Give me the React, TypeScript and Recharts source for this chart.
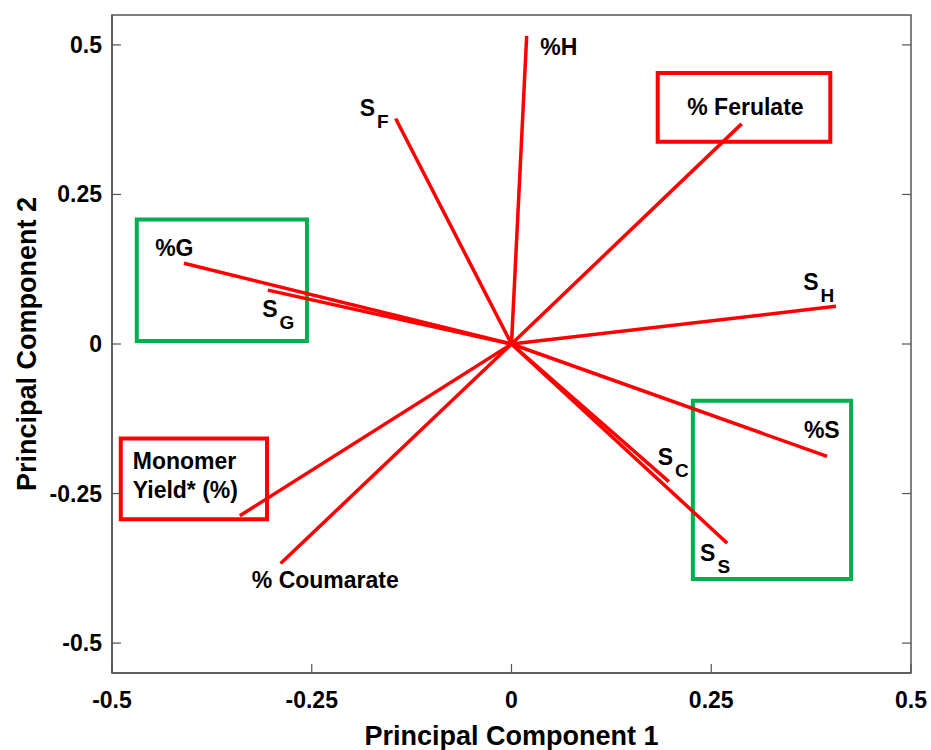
import React from 'react';
import {
  ScatterChart,
  XAxis,
  YAxis,
  ReferenceLine,
  ReferenceArea,
  ReferenceDot,
} from 'recharts';

// loadings (PC1, PC2) per variable
const variables = ['%H', 'SF', '% Ferulate', 'SH', '%G', 'SG', 'Monomer', '% Coumarate', '%S', 'SC', 'SS'];
const pc1 = [0.019, -0.145, 0.288, 0.406, -0.41, -0.305, -0.34, -0.289, 0.395, 0.197, 0.27];
const pc2 = [0.515, 0.377, 0.368, 0.063, 0.135, 0.09, -0.287, -0.367, -0.188, -0.23, -0.333];

// label texts: main part + subscript
const labelMain = ['%H', 'S', '% Ferulate', 'S', '%G', 'S', 'Monomer', '% Coumarate', '%S', 'S', 'S'];
const labelSub = ['', 'F', '', 'H', '', 'G', '', '', '', 'C', 'S'];
const labelX = [0.036, -0.19, 0.22, 0.365, -0.446, -0.312, -0.474, -0.325, 0.366, 0.183, 0.236];
const labelY = [0.497, 0.395, 0.396, 0.104, 0.161, 0.0585, -0.196, -0.395, -0.144, -0.189, -0.349];

// highlight boxes
const boxX1 = [0.183, -0.469, -0.489, 0.227];
const boxX2 = [0.399, -0.256, -0.306, 0.425];
const boxY1 = [0.453, 0.208, -0.158, -0.095];
const boxY2 = [0.338, 0.005, -0.293, -0.393];
const boxColor = ['#ff0000', '#00b050', '#ff0000', '#00b050'];

const ticks = [-0.5, -0.25, 0, 0.25, 0.5];
const xDomain: [number, number] = [-0.5, 0.5];
const yDomain: [number, number] = [-0.55, 0.55];

const FONT = '"Liberation Sans", Arial, sans-serif';
const FRAME = '#555';

const BottomTick = (props: any) => {
  const { x, y, payload } = props;
  return (
    <g>
      <line x1={x} y1={y} x2={x} y2={y - 9} stroke={FRAME} strokeWidth={1.2} />
      <text x={x} y={y + 27} textAnchor="middle" dominantBaseline="central" fontFamily={FONT} fontWeight="bold" fontSize={23} fill="#000">
        {payload.value}
      </text>
    </g>
  );
};

const LeftTick = (props: any) => {
  const { x, y, payload } = props;
  return (
    <g>
      <line x1={x} y1={y} x2={x + 9} y2={y} stroke={FRAME} strokeWidth={1.2} />
      <text x={x - 10} y={y} textAnchor="end" dominantBaseline="central" fontFamily={FONT} fontWeight="bold" fontSize={23} fill="#000">
        {payload.value}
      </text>
    </g>
  );
};

const TopTick = (props: any) => {
  const { x, y } = props;
  return <line x1={x} y1={y} x2={x} y2={y + 9} stroke={FRAME} strokeWidth={1.2} />;
};

const RightTick = (props: any) => {
  const { x, y } = props;
  return <line x1={x} y1={y} x2={x - 9} y2={y} stroke={FRAME} strokeWidth={1.2} />;
};

const makeLabel = (i: number) => (p: any) => {
  const { cx, cy } = p;
  if (labelMain[i] === 'Monomer') {
    return (
      <text x={cx} y={cy} dominantBaseline="central" fontFamily={FONT} fontWeight="bold" fontSize={23} fill="#000">
        <tspan x={cx}>Monomer</tspan>
        <tspan x={cx} dy={29}>Yield* (%)</tspan>
      </text>
    );
  }
  return (
    <text x={cx} y={cy} dominantBaseline="central" fontFamily={FONT} fontWeight="bold" fontSize={23} fill="#000">
      <tspan>{labelMain[i]}</tspan>
      {labelSub[i] && (
        <tspan dx={2} dy={13} fontSize={19}>
          {labelSub[i]}
        </tspan>
      )}
    </text>
  );
};

export default function App() {
  return (
    <div style={{ position: 'absolute', left: 0, top: 0, width: 931, height: 750, background: '#fff' }}>
      <ScatterChart width={931} height={750} margin={{ top: 14, right: 19, bottom: 0, left: 0 }}>
        <XAxis
          type="number"
          dataKey="x"
          domain={xDomain}
          ticks={ticks}
          allowDataOverflow
          height={77}
          tickSize={0}
          tickMargin={0}
          tickLine={false}
          axisLine={{ stroke: FRAME, strokeWidth: 1.5 }}
          tick={<BottomTick />}
          interval={0}
          label={{
            value: 'Principal Component 1',
            position: 'insideBottom',
            offset: 0,
            dy: -5,
            style: { fontFamily: FONT, fontWeight: 'bold', fontSize: 27, fill: '#000' },
          }}
        />
        <XAxis
          xAxisId="top"
          orientation="top"
          type="number"
          domain={xDomain}
          ticks={ticks}
          allowDataOverflow
          height={1}
          tickSize={0}
          tickMargin={0}
          tickLine={false}
          axisLine={false}
          tick={<TopTick />}
          interval={0}
        />
        <YAxis
          type="number"
          dataKey="y"
          domain={yDomain}
          ticks={ticks}
          allowDataOverflow
          width={112}
          tickSize={0}
          tickMargin={0}
          tickLine={false}
          axisLine={{ stroke: FRAME, strokeWidth: 1.5 }}
          tick={<LeftTick />}
          interval={0}
          label={{
            value: 'Principal Component 2',
            angle: -90,
            position: 'insideLeft',
            offset: 0,
            dx: 26,
            style: { textAnchor: 'middle', fontFamily: FONT, fontWeight: 'bold', fontSize: 27, fill: '#000' },
          }}
        />
        <YAxis
          yAxisId="right"
          orientation="right"
          type="number"
          domain={yDomain}
          ticks={ticks}
          allowDataOverflow
          width={1}
          tickSize={0}
          tickMargin={0}
          tickLine={false}
          axisLine={false}
          tick={<RightTick />}
          interval={0}
        />
        {/* plot frame */}
        <ReferenceArea
          x1={xDomain[0]}
          x2={xDomain[1]}
          y1={yDomain[0]}
          y2={yDomain[1]}
          fill="none"
          fillOpacity={0}
          stroke={FRAME}
          strokeWidth={1.5}
          ifOverflow="visible"
        />
        {boxX1.map((x1, i) => (
          <ReferenceArea
            key={`box-${i}`}
            x1={x1}
            x2={boxX2[i]}
            y1={boxY1[i]}
            y2={boxY2[i]}
            fill="none"
            fillOpacity={0}
            stroke={boxColor[i]}
            strokeWidth={4}
            ifOverflow="visible"
          />
        ))}
        {variables.map((v, i) => (
          <ReferenceLine
            key={`vec-${v}`}
            segment={[
              { x: 0, y: 0 },
              { x: pc1[i], y: pc2[i] },
            ]}
            stroke="#ff0000"
            strokeWidth={3.5}
            ifOverflow="visible"
          />
        ))}
        {variables.map((v, i) => (
          <ReferenceDot
            key={`lab-${v}`}
            x={labelX[i]}
            y={labelY[i]}
            r={1}
            ifOverflow="visible"
            shape={makeLabel(i)}
          />
        ))}
      </ScatterChart>
    </div>
  );
}
